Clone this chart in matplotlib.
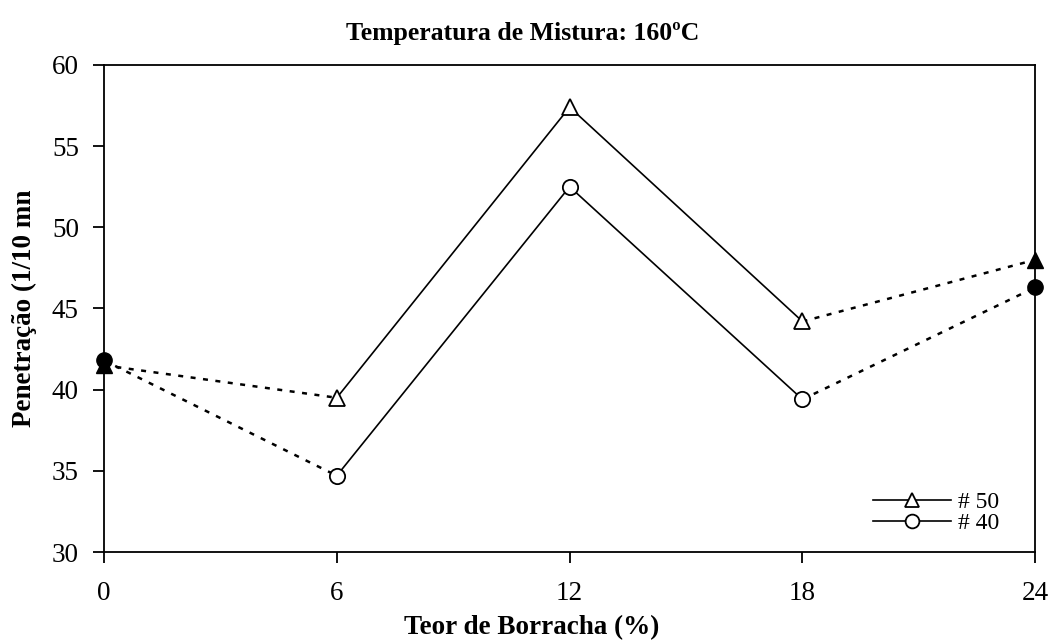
import matplotlib.pyplot as plt

plt.rcParams['font.family'] = ['Liberation Serif', 'DejaVu Serif']

# Data
teor = [0, 6, 12, 18, 24]
pen_50 = [41.5, 39.5, 57.4, 44.2, 48.0]
pen_40 = [41.8, 34.7, 52.5, 39.4, 46.3]

fig = plt.figure(figsize=(10.5, 6.4), dpi=100)
ax = fig.add_axes([0.099, 0.1375, 0.887, 0.761])

for vals, mk, ms, lab in [(pen_50, '^', 11, '# 50'), (pen_40, 'o', 11, '# 40')]:
    # dashed end segments
    ax.plot(teor[:2], vals[:2], color='black', lw=1.8, ls=(0, (2, 3)), zorder=2)
    ax.plot(teor[3:], vals[3:], color='black', lw=1.8, ls=(0, (2, 3)), zorder=2)
    # solid middle segment with open markers
    ax.plot(teor[1:4], vals[1:4], color='black', lw=1.2, marker=mk, ms=ms,
            mfc='white', mec='black', mew=1.3, label=lab, zorder=3)
    # filled end points
    ax.plot([teor[0], teor[-1]], [vals[0], vals[-1]], ls='none', marker=mk, ms=ms,
            color='black', clip_on=False, zorder=4)

ax.set_xlim(0, 24)
ax.set_ylim(30, 60)
ax.set_xticks(teor)
ax.set_yticks(range(30, 61, 5))
ax.tick_params(direction='out', length=8, width=1.3, labelsize=19.5)
ax.tick_params(axis='x', pad=13)
ax.tick_params(axis='y', pad=10)
for s in ax.spines.values():
    s.set_linewidth(1.3)

ax.set_xlabel('Teor de Borracha (%)', fontsize=19.5, fontweight='bold')
ax.xaxis.set_label_coords(0.459, -0.13)
ax.set_ylabel('Penetração (1/10 mn', fontsize=19.5, fontweight='bold')
ax.yaxis.set_label_coords(-0.072, 0.5)
fig.text(0.4975, 0.948, 'Temperatura de Mistura: 160ºC', fontsize=18.5,
         fontweight='bold', ha='center', va='center')

leg = ax.legend(loc='lower right', bbox_to_anchor=(0.974, 0.012), frameon=False,
                fontsize=17, handlelength=3.3, handletextpad=0.3, labelspacing=0.0,
                borderpad=0, markerscale=0.9)

fig.savefig('out.png', dpi=100)
